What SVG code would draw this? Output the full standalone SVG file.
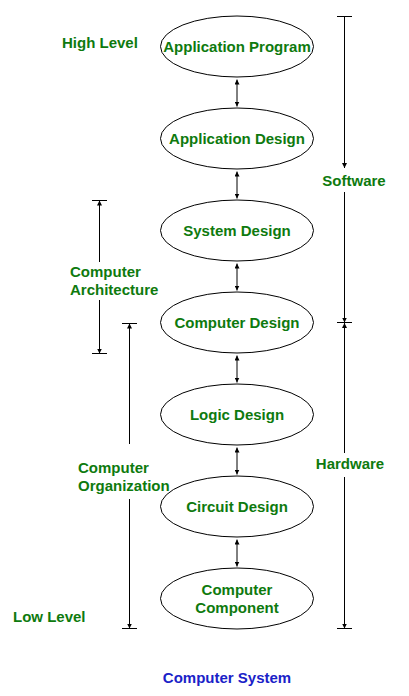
<svg xmlns="http://www.w3.org/2000/svg" width="409" height="696" viewBox="0 0 409 696">
<defs>
<marker id="ah" viewBox="0 0 10 10" refX="10" refY="5" markerWidth="5" markerHeight="5" markerUnits="userSpaceOnUse" orient="auto-start-reverse">
<path d="M0,0 L10,5 L0,10 z" fill="#000"/>
</marker>
<style>
.n ellipse{fill:#fff;stroke:#000;stroke-width:1}
.t{font-family:"Liberation Sans",Arial,sans-serif;font-weight:bold;font-size:15px;fill:#0e7a0e;text-anchor:middle}
.l{font-family:"Liberation Sans",Arial,sans-serif;font-weight:bold;font-size:15px;fill:#0e7a0e}
.c line{stroke:#000;stroke-width:1}
.a{marker-end:url(#ah)}
.b{marker-start:url(#ah);marker-end:url(#ah)}
</style>
</defs>
<rect width="409" height="696" fill="#fff"/>
<g class="c" id="connectors">
<line class="b" x1="237" y1="79.5" x2="237" y2="106.5"/>
<line class="b" x1="237" y1="171.5" x2="237" y2="198.5"/>
<line class="b" x1="237" y1="263.5" x2="237" y2="290.5"/>
<line class="b" x1="237" y1="355.5" x2="237" y2="382.5"/>
<line class="b" x1="237" y1="447.5" x2="237" y2="474.5"/>
<line class="b" x1="237" y1="539.5" x2="237" y2="566.5"/>
<!-- Software -->
<line x1="337" y1="16.5" x2="352" y2="16.5"/>
<line class="a" x1="344.5" y1="16.5" x2="344.5" y2="168"/>
<line class="a" x1="344.5" y1="192" x2="344.5" y2="322.5"/>
<line x1="337" y1="322.5" x2="352" y2="322.5"/>
<!-- Hardware -->
<line class="a" x1="344.5" y1="453" x2="344.5" y2="323"/>
<line class="a" x1="344.5" y1="477" x2="344.5" y2="628.5"/>
<line x1="337" y1="628.5" x2="352" y2="628.5"/>
<!-- Computer Architecture -->
<line x1="92" y1="200.5" x2="107" y2="200.5"/>
<line class="a" x1="99.5" y1="262" x2="99.5" y2="200.5"/>
<line class="a" x1="99.5" y1="300" x2="99.5" y2="353.5"/>
<line x1="92" y1="353.5" x2="107" y2="353.5"/>
<!-- Computer Organization -->
<line x1="122" y1="323.5" x2="137" y2="323.5"/>
<line class="a" x1="129.5" y1="444" x2="129.5" y2="323.5"/>
<line class="a" x1="129.5" y1="499" x2="129.5" y2="628.5"/>
<line x1="122" y1="628.5" x2="137" y2="628.5"/>
</g>
<g class="n" id="application-program"><ellipse cx="237" cy="46.5" rx="76.5" ry="30.5"/><text class="t" x="237" y="52">Application Program</text></g>
<g class="n" id="application-design"><ellipse cx="237" cy="138.5" rx="76.5" ry="30.5"/><text class="t" x="237" y="144">Application Design</text></g>
<g class="n" id="system-design"><ellipse cx="237" cy="230.5" rx="76.5" ry="30.5"/><text class="t" x="237" y="236">System Design</text></g>
<g class="n" id="computer-design"><ellipse cx="237" cy="322.5" rx="76.5" ry="30.5"/><text class="t" x="237" y="328">Computer Design</text></g>
<g class="n" id="logic-design"><ellipse cx="237" cy="414.5" rx="76.5" ry="30.5"/><text class="t" x="237" y="420">Logic Design</text></g>
<g class="n" id="circuit-design"><ellipse cx="237" cy="506.5" rx="76.5" ry="30.5"/><text class="t" x="237" y="512">Circuit Design</text></g>
<g class="n" id="computer-component"><ellipse cx="237" cy="598.5" rx="76.5" ry="30.5"/><text class="t" x="237" y="595">Computer</text><text class="t" x="237" y="613">Component</text></g>
<g id="labels">
<text class="l" x="62" y="48">High Level</text>
<text class="l" x="13" y="622">Low Level</text>
<text class="t" x="354" y="186">Software</text>
<text class="t" x="350" y="469">Hardware</text>
<text class="l" x="70" y="277">Computer</text>
<text class="l" x="70" y="295">Architecture</text>
<text class="l" x="78" y="473">Computer</text>
<text class="l" x="78" y="491">Organization</text>
<text class="t" x="227" y="683" style="fill:#1a22c8">Computer System</text>
</g>
</svg>
